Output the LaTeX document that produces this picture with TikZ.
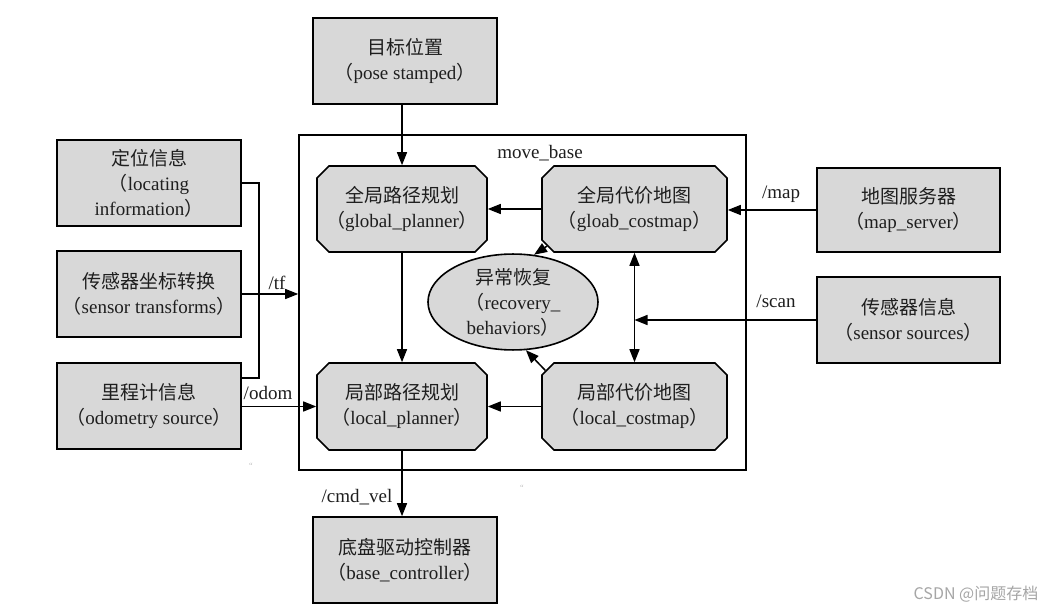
\documentclass[tikz,border=0pt]{standalone}
\usepackage{fontspec}
\setmainfont{Liberation Serif}
\newfontfamily\cjk{Noto Sans CJK SC}
\usetikzlibrary{arrows.meta,shapes.misc,shapes.geometric,calc}
\definecolor{boxgray}{RGB}{216,216,216}
\definecolor{txt}{RGB}{30,30,30}
\newcommand{\zh}[1]{{\cjk #1}}
\begin{document}
\begin{tikzpicture}[x=1pt,y=-1pt,
  base/.style={draw, line width=1.6pt, fill=boxgray, align=center, inner sep=0pt, text=txt,
    font=\fontsize{19}{25}\selectfont},
  sq/.style={base, rectangle, minimum width=184pt, minimum height=86pt},
  oct/.style={base, chamfered rectangle, chamfered rectangle xsep=9pt,
    minimum width=170pt, minimum height=86pt},
  tip/.tip={Triangle[length=13pt,width=10pt]},
  arr/.style={line width=1.5pt, -tip},
  ln/.style={line width=1.5pt},
  lbl/.style={font=\fontsize{19}{20}\selectfont, text=txt, inner sep=0pt}
]
\useasboundingbox (0,0) rectangle (1061,612);
\fill[white] (0,0) rectangle (1061,612);

% move_base frame
\node[draw, line width=1.6pt, minimum width=447pt, minimum height=335pt, inner sep=0pt] (mb) at (522.5,302.5) {};
\node[lbl] (mbl) at (540,153) {move\_base};

% outer boxes
\node[sq] (goal) at (405,61) {\zh{目标位置}\\\zh{（}pose stamped\zh{）}};
\node[sq] (loc) at (149,183) {\zh{定位信息}\\\zh{（}locating\\information\zh{）}};
\node[sq] (stf) at (149,294) {\zh{传感器坐标转换}\\\zh{（}sensor transforms\zh{）}};
\node[sq] (odo) at (149,406) {\zh{里程计信息}\\\zh{（}odometry source\zh{）}};
\node[sq, minimum width=183pt, minimum height=84pt] (msrv) at (908.5,210) {\zh{地图服务器}\\\zh{（}map\_server\zh{）}};
\node[sq, minimum width=183pt] (sens) at (908.5,320) {\zh{传感器信息}\\\zh{（}sensor sources\zh{）}};
\node[sq] (bc) at (405,560) {\zh{底盘驱动控制器}\\\zh{（}base\_controller\zh{）}};

% inner nodes
\node[oct] (gp) at (402,209) {\zh{全局路径规划}\\\zh{（}global\_planner\zh{）}};
\node[oct, minimum width=185pt] (gc) at (634.5,209) {\zh{全局代价地图}\\\zh{（}gloab\_costmap\zh{）}};
\node[oct, minimum height=87pt] (lp) at (402,406.5) {\zh{局部路径规划}\\\zh{（}local\_planner\zh{）}};
\node[oct, minimum width=185pt, minimum height=87pt] (lc) at (634.5,406.5) {\zh{局部代价地图}\\\zh{（}local\_costmap\zh{）}};
\node[base, ellipse, minimum width=170pt, minimum height=85pt] (rec) at (513,302) {\zh{异常恢复}\\\zh{（}recovery\_\\behaviors\zh{）}};

% connectors
\draw[arr] (goal.south -| gp.north) -- (gp.north);
\draw[arr] (gc.west) -- (gp.east);
\draw[arr] (msrv.west) -- (msrv.west -| gc.east);
\draw[arr] (sens.west) -- (sens.west -| gc.south);
\draw[ln, tip-tip] (gc.south) -- (lc.north);
\draw[arr] (gc.203) -- (rec.66);
\draw[arr] (lc.158) -- (rec.285);
\draw[arr] (gp.south) -- (lp.north);
\draw[arr] (lc.west) -- (lp.east);
\draw[arr] (odo.east |- lp.west) -- (lp.west);
\draw[arr] (stf.east) -- (stf.east -| mb.west);
\draw[ln] (loc.east) -- ++(17,0) -- ++(0,195) -- ++(-17,0);
\draw[arr] (lp.south) -- (lp.south |- bc.north);

% labels
\node[lbl] (lmap) at (781,194) {/map};
\node[lbl] (lscan) at (776,301) {/scan};
\node[lbl] (ltf) at (277,283) {/tf};
\node[lbl] (lodom) at (268,393) {/odom};
\node[lbl] (lcmd) at (357,497) {/cmd\_vel};

% stray marks and watermark
\node[font=\fontsize{8}{8}\selectfont, text=gray!60, inner sep=0pt] (s1) at (251,466) {``};
\node[font=\fontsize{8}{8}\selectfont, text=gray!60, inner sep=0pt] (s2) at (522,488) {``};
\node[font=\cjk\fontsize{16}{18}\selectfont, text=gray!70, inner sep=0pt] (wm) at (976,594) {CSDN @问题存档};
\end{tikzpicture}
\end{document}
